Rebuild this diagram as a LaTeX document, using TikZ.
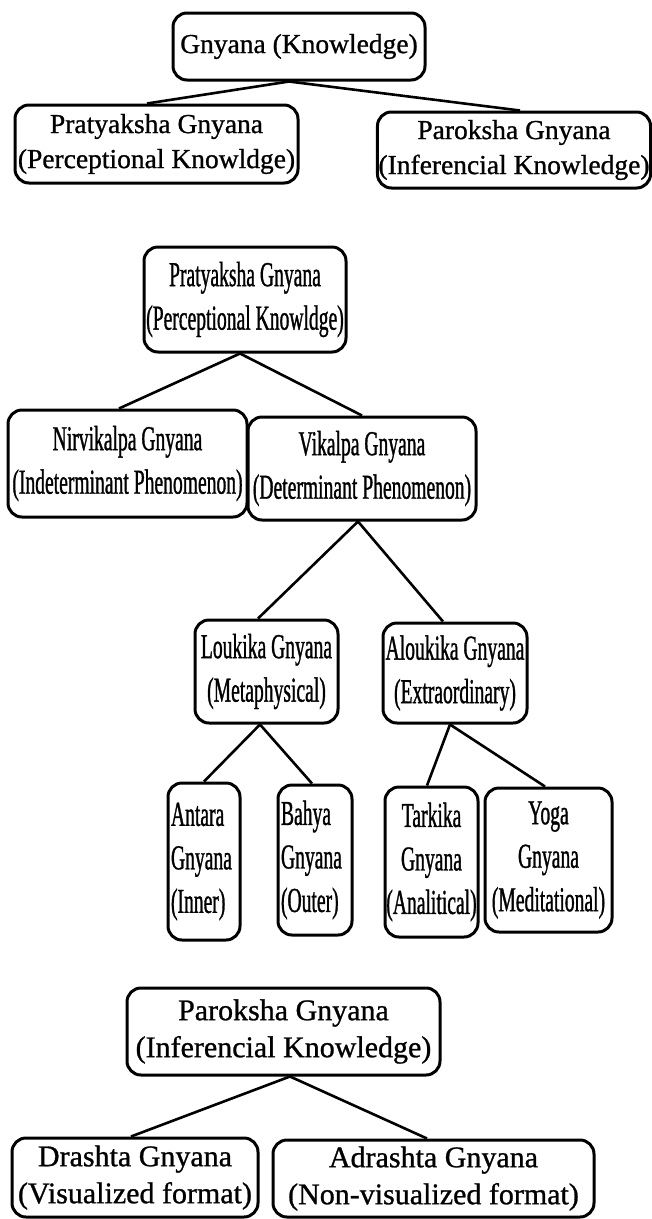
\documentclass[tikz,border=0pt]{standalone}
\usepackage{fontspec}
\setmainfont{Liberation Serif}[FakeBold=0.9]
\newfontfamily\narrowserif[FakeStretch=0.56,FakeBold=0.9]{Liberation Serif}
\usetikzlibrary{positioning}

\begin{document}
\begin{tikzpicture}[x=1pt,y=-1pt,
    kbox/.style={draw, line width=3pt, rounded corners=14pt, align=center, inner sep=1pt},
    widebox/.style={kbox, font=\fontsize{27.5}{35}\selectfont},
    tallbox/.style={kbox, font=\narrowserif\fontsize{35}{43.5}\selectfont},
    lowbox/.style={kbox, font=\fontsize{30}{37}\selectfont},
    link/.style={line width=2.6pt}]
    \useasboundingbox (0,0) rectangle (652,1219);

    % first tree
    \node[widebox, minimum width=252pt, minimum height=67pt] (gnyana) at (299,46.5) {Gnyana (Knowledge)};
    \node[widebox, minimum width=283pt, minimum height=78pt] (praty) at (156.5,144) {Pratyaksha Gnyana\\(Perceptional Knowldge)};
    \node[widebox, minimum width=272pt, minimum height=76pt] (parok) at (514,150) {Paroksha Gnyana\\(Inferencial Knowledge)};
    \draw[link] ([xshift=-10pt]gnyana.south) -- ([xshift=-9.5pt]praty.north);
    \draw[link] ([xshift=-10pt]gnyana.south) -- ([xshift=6pt]parok.north);

    % second tree
    \node[tallbox, minimum width=202pt, minimum height=105pt] (praty2) at (245,299.5) {Pratyaksha Gnyana\\(Perceptional Knowldge)};
    \node[tallbox, minimum width=239pt, minimum height=107pt] (nirv) at (127.5,463.5) {Nirvikalpa Gnyana\\(Indeterminant Phenomenon)};
    \node[tallbox, minimum width=228pt, minimum height=103pt] (vik) at (362,468.5) {Vikalpa Gnyana\\(Determinant Phenomenon)};
    \node[tallbox, minimum width=143pt, minimum height=103pt] (louk) at (266.5,671.5) {Loukika Gnyana\\(Metaphysical)};
    \node[tallbox, minimum width=144pt, minimum height=100pt] (alouk) at (455,673) {Aloukika Gnyana\\(Extraordinary)};
    \node[tallbox, text width=66pt, align=left, inner xsep=3pt, minimum height=157pt] (antara) at (204,861.5) {Antara\\Gnyana\\(Inner)};
    \node[tallbox, text width=68pt, align=left, inner xsep=3pt, minimum height=150pt] (bahya) at (315,860) {Bahya\\Gnyana\\(Outer)};
    \node[tallbox, minimum width=93pt, minimum height=150pt] (tark) at (431.5,862) {Tarkika\\Gnyana\\(Analitical)};
    \node[tallbox, minimum width=127pt, minimum height=144pt] (yoga) at (548.5,860) {Yoga\\Gnyana\\(Meditational)};
    \draw[link] ([xshift=-5pt]praty2.south) -- ([xshift=-8.5pt]nirv.north);
    \draw[link] ([xshift=-5pt]praty2.south) -- (vik.north);
    \draw[link] ([xshift=-4pt]vik.south) -- ([xshift=-8.5pt]louk.north);
    \draw[link] ([xshift=-4pt]vik.south) -- ([xshift=-12pt]alouk.north);
    \draw[link] ([xshift=-6.5pt]louk.south) -- (antara.north);
    \draw[link] ([xshift=-6.5pt]louk.south) -- ([xshift=-3pt]bahya.north);
    \draw[link] ([xshift=-5pt]alouk.south) -- ([xshift=-4.5pt]tark.north);
    \draw[link] ([xshift=-5pt]alouk.south) -- ([xshift=-3.5pt]yoga.north);

    % third tree
    \node[lowbox, minimum width=313pt, minimum height=87pt] (parok2) at (283.5,1031.5) {Paroksha Gnyana\\(Inferencial Knowledge)};
    \node[lowbox, minimum width=246pt, minimum height=79pt] (drash) at (135,1177.5) {Drashta Gnyana\\(Visualized format)};
    \node[lowbox, minimum width=321pt, minimum height=77pt] (adrash) at (433.5,1178.5) {Adrashta Gnyana\\(Non-visualized format)};
    \draw[link] ([xshift=6.5pt]parok2.south) -- ([xshift=-4pt]drash.north);
    \draw[link] ([xshift=6.5pt]parok2.south) -- ([xshift=-6.5pt]adrash.north);
\end{tikzpicture}
\end{document}
